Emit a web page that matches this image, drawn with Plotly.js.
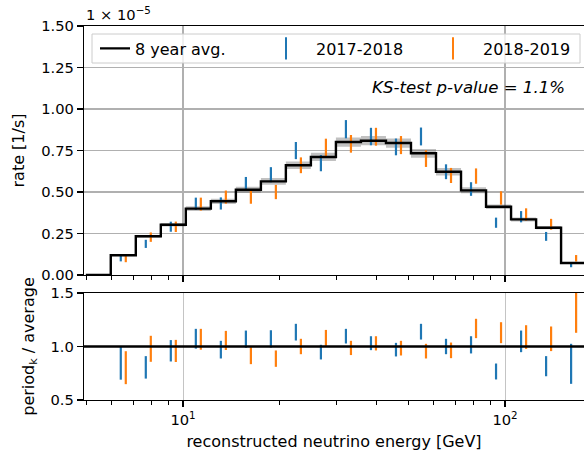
<!DOCTYPE html>
<html><head><meta charset="utf-8">
<script src="https://cdn.plot.ly/plotly-3.0.1.min.js"></script>
<style>body{margin:0;background:#fff;}</style>
</head><body><div id="plot" style="width:584px;height:455px;"></div>
<script>
// bin edges in GeV (log-spaced), first bin is empty
const binEdges = [4.99, 5.964, 7.133, 8.530, 10.20, 12.20, 14.59, 17.45, 20.86, 24.95, 29.84,
  35.69, 42.68, 51.04, 61.04, 73.00, 87.30, 104.4, 124.9, 149.3, 178.6];
// 8 year average rate, units of 1e-5 1/s
const avgRate = [0, 0.119, 0.233, 0.303, 0.400, 0.444, 0.514, 0.564, 0.661, 0.711, 0.801,
  0.809, 0.795, 0.733, 0.622, 0.510, 0.411, 0.335, 0.285, 0.072];
// uncertainty of the 8 year average (half-width of grey band)
const avgErr = [0, 0.004, 0.008, 0.011, 0.014, 0.016, 0.018, 0.020, 0.023, 0.025, 0.028,
  0.028, 0.028, 0.026, 0.022, 0.018, 0.014, 0.012, 0.010, 0.003];
// period / average ratio, lower and upper end of each error bar
const ratio1718Lo = [null, 0.690, 0.700, 0.860, 0.980, 0.888, 0.988, 0.990, 1.056, 0.879, 1.028,
  0.966, 0.907, 1.065, 0.928, 0.935, 0.692, 0.947, 0.722, 0.651];
const ratio1718Hi = [null, 1.000, 0.910, 1.060, 1.165, 1.053, 1.149, 1.152, 1.212, 1.016, 1.165,
  1.096, 1.034, 1.212, 1.072, 1.096, 0.841, 1.149, 0.910, 1.025];
const ratio1819Lo = [null, 0.648, 0.857, 0.855, 0.970, 0.967, 0.835, 0.810, 0.928, 1.006, 0.920,
  0.963, 0.916, 0.888, 0.891, 1.078, 1.031, 0.978, 0.957, 1.128];
const ratio1819Hi = [null, 0.956, 1.100, 1.062, 1.165, 1.146, 0.994, 0.963, 1.072, 1.155, 1.053,
  1.096, 1.053, 1.025, 1.037, 1.259, 1.227, 1.199, 1.187, 1.670];
const periodNames = ['2017-2018', '2018-2019'];
const periodColors = ['#1f77b4', '#ff7f0e'];
const barOffsets = [0.4, 0.6];
const ksText = 'KS-test p-value = 1.1%';

const FONT = 'DejaVu Sans, Liberation Sans, sans-serif';
const nb = avgRate.length;
const stepY = arr => arr.concat([arr[arr.length - 1]]);

const traces = [];
// uncertainty band of the average
traces.push({x: binEdges, y: stepY(avgRate.map((v, i) => v - avgErr[i])), mode: 'lines',
  line: {shape: 'hv', width: 0, color: 'rgba(0,0,0,0)'}, showlegend: false, hoverinfo: 'skip', xaxis: 'x', yaxis: 'y'});
traces.push({x: binEdges, y: stepY(avgRate.map((v, i) => v + avgErr[i])), mode: 'lines', fill: 'tonexty',
  fillcolor: 'rgba(100,100,100,0.4)', line: {shape: 'hv', width: 0, color: 'rgba(0,0,0,0)'},
  showlegend: false, hoverinfo: 'skip', xaxis: 'x', yaxis: 'y'});

const periods = [[ratio1718Lo, ratio1718Hi], [ratio1819Lo, ratio1819Hi]];
periods.forEach((p, k) => {
  const xs = [], yTop = [], yRat = [];
  for (let i = 0; i < nb; i++) {
    if (p[0][i] === null) continue;
    const l0 = Math.log10(binEdges[i]), l1 = Math.log10(binEdges[i + 1]);
    const xc = Math.pow(10, l0 + barOffsets[k] * (l1 - l0));
    xs.push(xc, xc, null);
    yTop.push(p[0][i] * avgRate[i], p[1][i] * avgRate[i], null);
    yRat.push(p[0][i], p[1][i], null);
  }
  traces.push({x: xs, y: yTop, mode: 'lines', line: {color: periodColors[k], width: 2.2},
    showlegend: false, xaxis: 'x', yaxis: 'y', hoverinfo: 'skip'});
  traces.push({x: xs, y: yRat, mode: 'lines', line: {color: periodColors[k], width: 2.2},
    showlegend: false, xaxis: 'x2', yaxis: 'y2', hoverinfo: 'skip'});
});

// average step line
traces.push({x: binEdges, y: stepY(avgRate), mode: 'lines', name: '8 year avg.',
  line: {shape: 'hv', color: '#000', width: 2.4}, xaxis: 'x', yaxis: 'y', legend: 'legend'});
// legend entries for periods
['legend2', 'legend3'].forEach((lg, k) => {
  traces.push({x: [null], y: [null], mode: 'markers', name: periodNames[k], xaxis: 'x', yaxis: 'y',
    marker: {symbol: 'line-ns-open', size: 16, color: periodColors[k], line: {color: periodColors[k], width: 2}},
    legend: lg});
});

const W = 584, H = 455, ML = 84, MR = 0, MT = 26, MB = 55;
const PW = W - ML - MR, PH = H - MT - MB;
const px2x = px => (px - ML) / PW;
const py2y = py => (H - MB - py) / PH;

const majorX = [10, 100];
const minorX = [5, 6, 7, 8, 9, 20, 30, 40, 50, 60, 70, 80, 90];
const xBase = {
  type: 'log', range: [Math.log10(4.925), Math.log10(175.9)],
  tickmode: 'array', tickvals: majorX, ticktext: ['10<sup>1</sup>', '10<sup>2</sup>'],
  ticks: 'outside', ticklen: 6, tickwidth: 1.2, tickcolor: '#000',
  minor: {tickmode: 'array', tickvals: minorX, ticks: 'outside', ticklen: 3.5, tickwidth: 1, tickcolor: '#000', showgrid: false},
  showline: true, linecolor: '#000', linewidth: 1.2, mirror: true,
  showgrid: true, zeroline: false,
  tickfont: {family: FONT, size: 14.7, color: '#000'}
};
const legBase = {orientation: 'h', xanchor: 'left', yanchor: 'middle',
  y: py2y(48.5), bgcolor: 'rgba(0,0,0,0)', borderwidth: 0, font: {family: FONT, size: 16, color: '#000'}};

const layout = {
  width: W, height: H, margin: {l: ML, r: MR, t: MT, b: MB},
  paper_bgcolor: '#fff', plot_bgcolor: '#fff',
  font: {family: FONT, size: 14.7, color: '#000'},
  xaxis: Object.assign({}, xBase, {domain: [0, 1], anchor: 'y', showticklabels: false,
    gridcolor: '#b0b0b0', gridwidth: 1.6}),
  xaxis2: Object.assign({}, xBase, {domain: [0, 1], anchor: 'y2', matches: 'x',
    gridcolor: '#c4c4c4', gridwidth: 1,
    title: {text: 'reconstructed neutrino energy [GeV]', standoff: 9, font: {family: FONT, size: 16}}}),
  yaxis: {domain: [py2y(275), 1], anchor: 'x', range: [0, 1.5],
    tickmode: 'array', tickvals: [0, 0.25, 0.5, 0.75, 1.0, 1.25, 1.5], tickformat: '.2f',
    ticks: 'outside', ticklen: 6, tickwidth: 1.2, tickcolor: '#000',
    showline: true, linecolor: '#000', linewidth: 1.2,
    showgrid: true, gridcolor: '#b0b0b0', gridwidth: 1.6, zeroline: false,
    title: {text: 'rate [1/s]', standoff: 12, font: {family: FONT, size: 16}}},
  yaxis2: {domain: [0, py2y(293)], anchor: 'x2', range: [0.5, 1.5],
    tickmode: 'array', tickvals: [0.5, 1.0, 1.5], tickformat: '.1f',
    ticks: 'outside', ticklen: 6, tickwidth: 1.2, tickcolor: '#000',
    showline: true, linecolor: '#000', linewidth: 1.2,
    showgrid: false, zeroline: false,
    title: {text: 'period<sub>k</sub> / average', standoff: 12, font: {family: FONT, size: 16}}},
  legend: Object.assign({}, legBase, {x: px2x(95)}),
  legend2: Object.assign({}, legBase, {x: px2x(256), itemwidth: 50}),
  legend3: Object.assign({}, legBase, {x: px2x(423), itemwidth: 50}),
  shapes: [
    {type: 'line', xref: 'x2 domain', yref: 'y2', x0: 0, x1: 1, y0: 1, y1: 1,
      line: {color: '#000', width: 2.4}, layer: 'above'},
    {type: 'rect', xref: 'paper', yref: 'paper', x0: px2x(92), x1: px2x(580), y0: py2y(63), y1: py2y(34),
      fillcolor: 'rgba(255,255,255,0.8)', line: {color: '#cccccc', width: 1}, layer: 'above'}
  ],
  annotations: [
    {xref: 'paper', yref: 'paper', x: 0, y: 1, xanchor: 'left', yanchor: 'bottom', yshift: 1,
      text: '1 × 10<sup>−5</sup>', showarrow: false, font: {family: FONT, size: 14.7, color: '#000'}},
    {xref: 'paper', yref: 'paper', x: px2x(567), y: py2y(87), xanchor: 'right', yanchor: 'middle',
      text: '<i>' + ksText + '</i>', showarrow: false,
      font: {family: FONT, size: 16.6, color: '#000'}}
  ]
};

Plotly.newPlot('plot', traces, layout, {staticPlot: true, displayModeBar: false});
</script>
</body></html>
